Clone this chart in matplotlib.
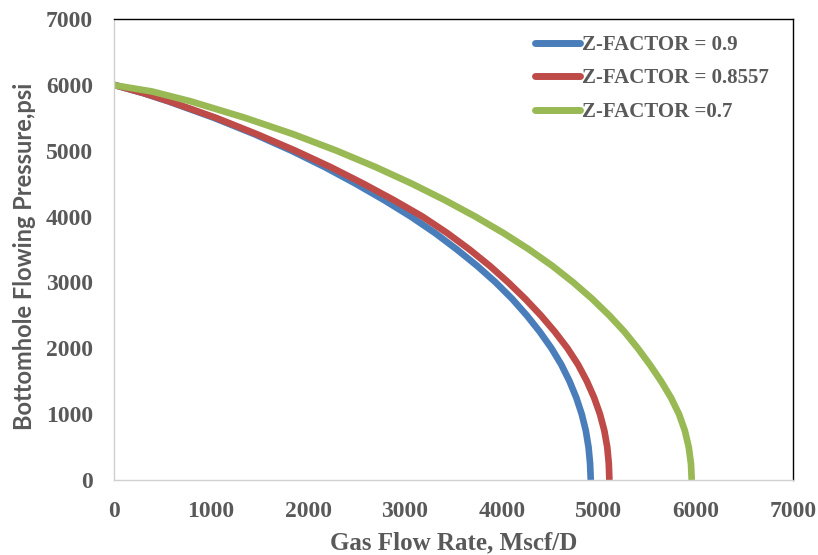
import matplotlib
matplotlib.use('Agg')
import matplotlib.pyplot as plt

# values: bottomhole pressure (psi) and gas rate (Mscf/D)
pwf = [6000, 5875, 5750, 5500, 5250, 5000, 4750, 4500, 4250, 4000, 3750, 3500, 3250, 3000,
       2750, 2500, 2250, 2000, 1750, 1500, 1250, 1000, 750, 500, 250, 0]

q_z09 = [0, 300, 560, 1030, 1450, 1830, 2175, 2490, 2785, 3060, 3310, 3535, 3745, 3935,
         4105, 4255, 4390, 4510, 4612, 4696, 4766, 4822, 4864, 4892, 4908, 4915]
q_z08557 = [0, 305, 570, 1050, 1475, 1870, 2235, 2570, 2885, 3180, 3435, 3665, 3875, 4065,
            4240, 4400, 4545, 4675, 4785, 4875, 4950, 5010, 5055, 5085, 5101, 5107]

pwf_07 = [5995, 5900, 5750, 5500, 5250, 5000, 4750, 4500, 4250, 4000, 3750, 3500, 3250, 3000,
          2750, 2500, 2250, 2000, 1750, 1500, 1250, 1000, 750, 500, 250, 0]
q_z07 = [0, 390, 790, 1350, 1850, 2295, 2700, 3070, 3410, 3725, 4015, 4280, 4520, 4735,
         4930, 5105, 5263, 5400, 5525, 5640, 5742, 5825, 5885, 5925, 5948, 5956]

labels = ['Z-FACTOR = 0.9', 'Z-FACTOR = 0.8557', 'Z-FACTOR =0.7']
colors = ['#4A7EBB', '#BE4B48', '#98B954']

ticks = [0, 1000, 2000, 3000, 4000, 5000, 6000, 7000]

serif = 'Liberation Serif'
gray = '#595959'

fig = plt.figure(figsize=(8.18, 5.55), dpi=100)
ax = fig.add_axes([114 / 818, 1 - 480 / 555, 679 / 818, 461 / 555])

curves = [(q_z09, pwf), (q_z08557, pwf), (q_z07, pwf_07)]
for (q, p), lab, c in zip(curves, labels, colors):
    ax.plot(q, p, color=c, linewidth=4.8, label=lab,
            solid_capstyle='butt', solid_joinstyle='round')

ax.set_xlim(0, 7000)
ax.set_ylim(0, 7000)
ax.set_xticks(ticks)
ax.set_yticks(ticks)
ax.tick_params(axis='both', length=0, pad=15, labelcolor=gray)
for t in ax.get_xticklabels() + ax.get_yticklabels():
    t.set_fontfamily(serif)
    t.set_fontweight('bold')
    t.set_fontsize(17)

ax.spines['left'].set_color('#D0D0D0')
ax.spines['bottom'].set_color('#D0D0D0')
ax.spines['top'].set_color('black')
ax.spines['right'].set_color('black')
for s in ax.spines.values():
    s.set_linewidth(1.0)

ax.set_xlabel('Gas Flow Rate, Mscf/D', fontfamily=serif, fontweight='bold',
              fontsize=18, color=gray, labelpad=7)
ax.set_ylabel('Bottomhole Flowing Pressure,psi', fontfamily='Lato', fontweight='bold',
              fontsize=17, color=gray)
ax.yaxis.set_label_coords(-0.115, 0.485)

leg = ax.legend(loc='upper left', bbox_to_anchor=(0.62, 0.965), frameon=False,
                borderpad=0, borderaxespad=0,
                handlelength=2.15, handletextpad=0.1, labelspacing=0.64,
                prop={'family': serif, 'weight': 'bold', 'size': 15})
for t in leg.get_texts():
    t.set_color(gray)
for h in leg.legend_handles:
    h.set_linewidth(5)
    h.set_solid_capstyle('round')

fig.savefig('out.png', dpi=100)
